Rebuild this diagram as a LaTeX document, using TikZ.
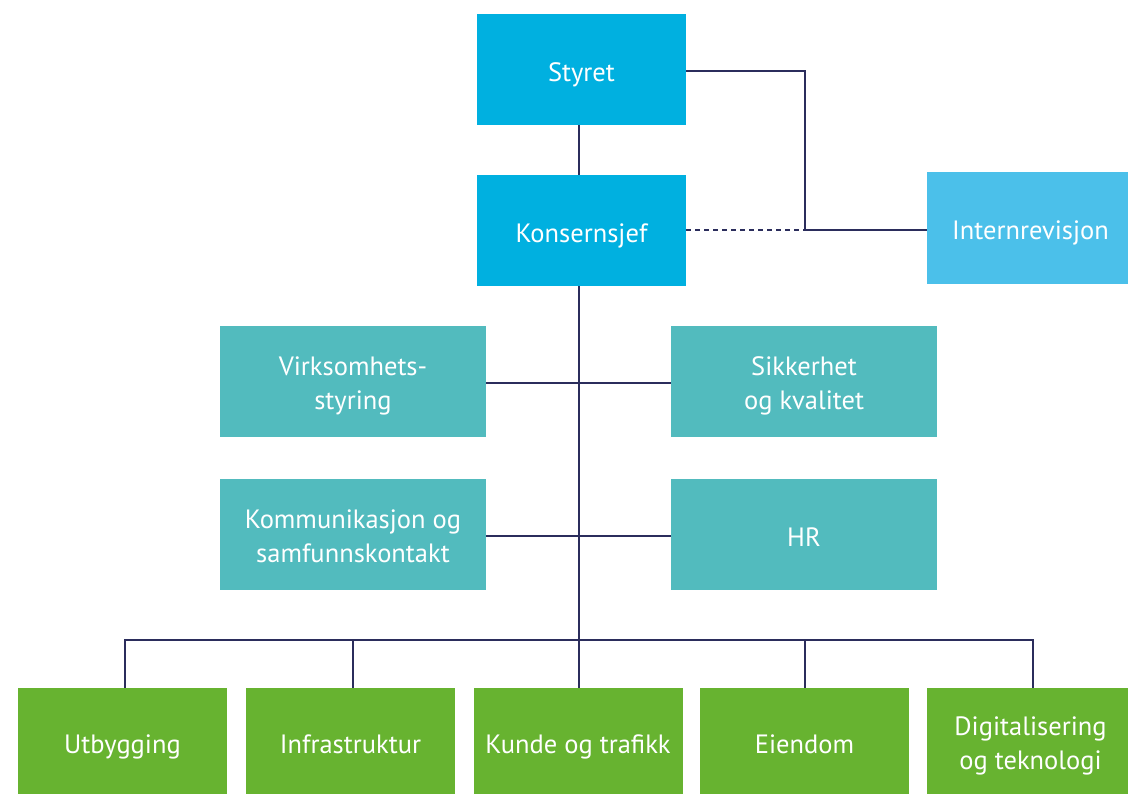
\documentclass[tikz,border=0pt]{standalone}
\usepackage{fontspec}
\setmainfont{PT Sans}
\definecolor{topblue}{RGB}{0,176,224}
\definecolor{lightblue}{RGB}{75,192,234}
\definecolor{teal}{RGB}{82,187,190}
\definecolor{leafgreen}{RGB}{103,179,48}
\definecolor{navy}{RGB}{43,45,92}
\tikzset{
  orgbox/.style={draw=none, text=white, align=center, inner sep=0pt,
    font=\fontsize{26.5}{34}\selectfont},
  oneline/.style={text height=27pt, text depth=3pt},
  twoline/.style={text height=61pt, text depth=5pt},
  topbox/.style={orgbox, fill=topblue, minimum width=209pt, minimum height=111pt},
  auditbox/.style={orgbox, fill=lightblue, minimum width=207pt, minimum height=112pt},
  staffbox/.style={orgbox, fill=teal, minimum width=266pt, minimum height=111pt},
  unitbox/.style={orgbox, fill=leafgreen, minimum width=209pt, minimum height=106pt},
  link/.style={draw=navy, line width=1.8pt},
  dotlink/.style={draw=navy, line width=1.8pt, dash pattern=on 5pt off 4pt}
}
\begin{document}
\begin{tikzpicture}[x=1pt,y=-1pt]
\useasboundingbox (0,0) rectangle (1128,794);
% top
\node[topbox,oneline] (styret) at (581.5,69.5) {Styret};
\node[topbox,oneline] (ks) at (581.5,230.5) {Konsernsjef};
\node[auditbox,oneline] (ir) at (1030.5,228) {Internrevisjon};
% staff
\node[staffbox,twoline] (vs) at (353,381.5) {Virksomhets-\\styring};
\node[staffbox,twoline] (sk) at (804,381.5) {Sikkerhet\\og kvalitet};
\node[staffbox,twoline] (kom) at (353,534.5) {Kommunikasjon og\\samfunnskontakt};
\node[staffbox,oneline] (hr) at (804,534.5) {HR};
% units
\node[unitbox,oneline] (ut) at (122.5,741) {Utbygging};
\node[unitbox,oneline] (inf) at (350.5,741) {Infrastruktur};
\node[unitbox,oneline] (kt) at (578,741) {Kunde og trafikk};
\node[unitbox,oneline] (ei) at (804.5,741) {Eiendom};
\node[unitbox,twoline,minimum width=207pt] (dig) at (1030.5,741) {Digitalisering\\og teknologi};
% coordinates
\coordinate (corner) at (805,71);
\coordinate (junc) at (805,230);
% connectors
\draw[link] (styret.south -| 579,0) -- (ks.north -| 579,0);
\draw[link] (styret.east |- corner) -- (corner) -- (junc) -- (ir.west |- junc);
\draw[dotlink] (ks.east |- junc) -- (junc);
\draw[link] (ks.south -| 579,0) -- (kt.north -| 579,0);
\draw[link] (vs.east |- 0,383) -- (sk.west |- 0,383);
\draw[link] (kom.east |- 0,536) -- (hr.west |- 0,536);
\draw[link] (ut.north -| 125,0) -- (125,640) -- (1033,640) -- (dig.north -| 1033,0);
\draw[link] (inf.north -| 353,0) -- (353,640);
\draw[link] (ei.north -| 805,0) -- (805,640);
\end{tikzpicture}
\end{document}
